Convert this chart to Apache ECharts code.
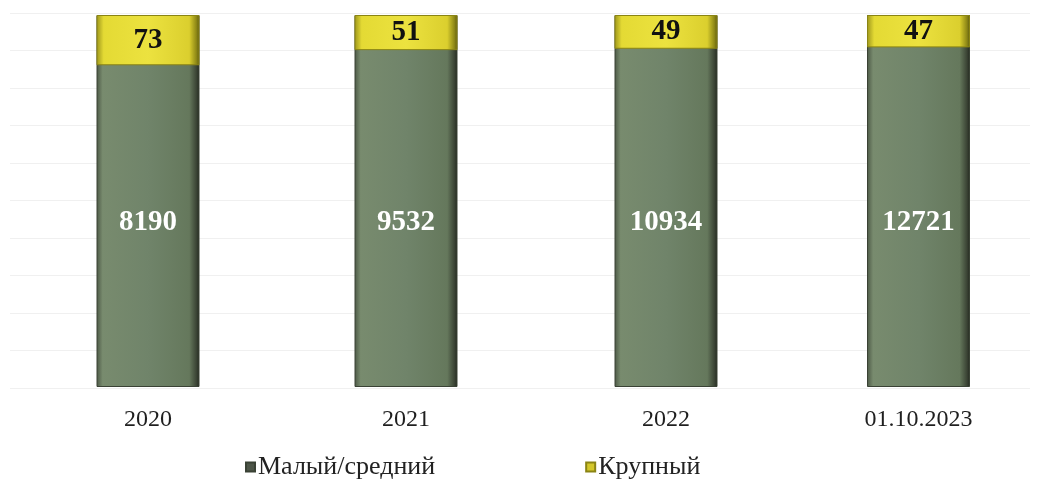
<!DOCTYPE html>
<html>
<head>
<meta charset="utf-8">
<script src="https://cdn.jsdelivr.net/npm/echarts@6/dist/echarts.min.js"></script>
<style>
  html, body { margin: 0; padding: 0; background: #ffffff; }
  #chart { width: 1042px; height: 488px; }
</style>
</head>
<body>
<div id="chart"></div>
<script>
// Enterprises by size, count per period
const categories = ['2020', '2021', '2022', '01.10.2023'];
const smallMedium = [8190, 9532, 10934, 12721];
const large = [73, 51, 49, 47];
const seriesNames = ['Малый/средний', 'Крупный'];

const FONT = '"Liberation Serif", "Times New Roman", serif';
const centers = [148, 406, 666, 924];
const slot = 258;
const plotTop = 15;
const plotHeight = 372;
const barW = 103;

const greenFill = {
  type: 'linear', x: 0, y: 0, x2: 1, y2: 0,
  colorStops: [
    { offset: 0, color: '#4b5745' },
    { offset: 0.06, color: '#788b6e' },
    { offset: 0.5, color: '#70846a' },
    { offset: 0.9, color: '#65785c' },
    { offset: 0.97, color: '#3b4435' },
    { offset: 1, color: '#22271f' }
  ]
};
const yellowFill = {
  type: 'linear', x: 0, y: 0, x2: 1, y2: 0,
  colorStops: [
    { offset: 0, color: '#9c951c' },
    { offset: 0.07, color: '#e4da34' },
    { offset: 0.5, color: '#ece23f' },
    { offset: 0.9, color: '#dbcf2e' },
    { offset: 0.97, color: '#8d8716' },
    { offset: 1, color: '#5d5a0e' }
  ]
};

const grid = [], xAxis = [], yAxis = [], series = [];

// faint horizontal guide lines behind the columns
grid.push({ left: 10, right: 12, top: 13, height: 375, z: 0 });
xAxis.push({ type: 'value', gridIndex: 0, show: false, min: 0, max: 1 });
yAxis.push({
  type: 'value', gridIndex: 0, min: 0, max: 10, interval: 1,
  axisLine: { show: false }, axisTick: { show: false }, axisLabel: { show: false },
  splitLine: { show: true, lineStyle: { color: '#f0f0f0', width: 1 } }
});

categories.forEach((cat, i) => {
  const g = i + 1;
  grid.push({ left: centers[i] - slot / 2, width: slot, top: plotTop, height: plotHeight });
  xAxis.push({
    type: 'category', gridIndex: g, data: [cat],
    axisLine: { show: false }, axisTick: { show: false },
    axisLabel: { margin: 21, fontSize: 24, fontFamily: FONT, color: '#1f1f1f' }
  });
  const yMain = yAxis.length;
  yAxis.push({ type: 'value', gridIndex: g, min: 0, max: 'dataMax', show: false, splitLine: { show: false } });
  const yTop = yAxis.length;
  yAxis.push({ type: 'value', gridIndex: g, min: 0, max: 540, inverse: true, show: false, splitLine: { show: false } });

  series.push({
    name: seriesNames[0], type: 'bar', xAxisIndex: g, yAxisIndex: yMain,
    data: [smallMedium[i]], barWidth: barW, barGap: '-100%', z: 2,
    itemStyle: { color: greenFill, borderColor: '#3a4235', borderWidth: 1 },
    label: {
      show: true, position: 'inside', offset: [0, 22],
      color: '#ffffff', fontWeight: 'bold', fontSize: 29, fontFamily: FONT
    }
  });
  series.push({
    name: seriesNames[1], type: 'bar', xAxisIndex: g, yAxisIndex: yTop,
    data: [large[i]], barWidth: barW, barGap: '-100%', z: 3,
    itemStyle: { color: yellowFill, borderColor: '#8a8414', borderWidth: 1 },
    label: {
      show: true, position: 'inside',
      color: '#111111', fontWeight: 'bold', fontSize: 29, fontFamily: FONT
    }
  });
});

const chart = echarts.init(document.getElementById('chart'), null, { renderer: 'canvas' });
chart.setOption({
  animation: false,
  backgroundColor: '#ffffff',
  grid, xAxis, yAxis, series,
  legend: {
    bottom: 3, left: 240, itemGap: 150,
    icon: 'rect', itemWidth: 9, itemHeight: 9,
    textStyle: { fontSize: 26, fontFamily: FONT, color: '#222222', padding: [0, 0, 0, -2] },
    data: [
      { name: seriesNames[0], itemStyle: { color: '#4d5548' } },
      { name: seriesNames[1], itemStyle: { color: '#d4c72a' } }
    ]
  }
});
</script>
</body>
</html>
